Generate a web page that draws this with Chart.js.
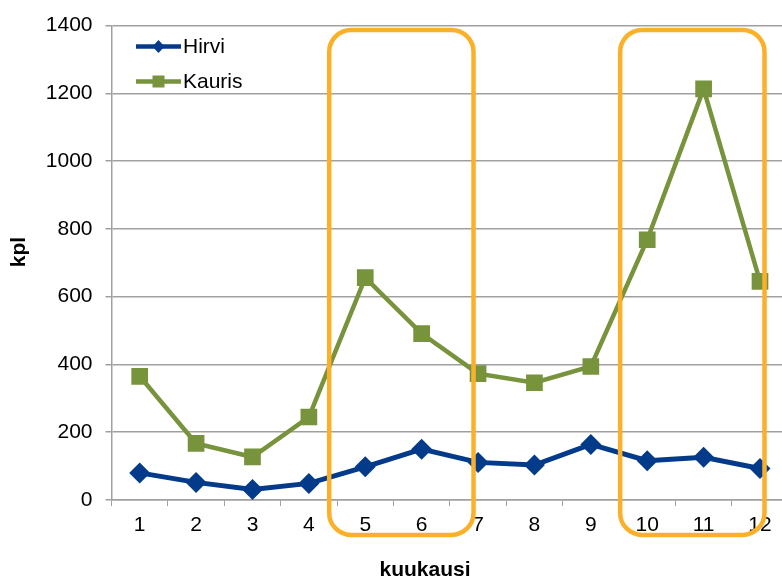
<!DOCTYPE html>
<html>
<head>
<meta charset="utf-8">
<script src="https://cdn.jsdelivr.net/npm/chart.js@4.4.0/dist/chart.umd.min.js"></script>
<style>
  html, body { margin: 0; padding: 0; background: #fff; overflow: hidden; }
  #wrap { width: 800px; height: 581px; }
</style>
</head>
<body>
<div id="wrap"><canvas id="c" width="800" height="581"></canvas></div>
<script>
// Kuukausittaiset määrät
const months = ['1', '2', '3', '4', '5', '6', '7', '8', '9', '10', '11', '12'];
const hirvi  = [80, 52, 31, 49, 98, 150, 111, 103, 164, 116, 126, 93];
const kauris = [365, 167, 127, 245, 656, 491, 373, 346, 394, 768, 1213, 645];
const yTicks = [0, 200, 400, 600, 800, 1000, 1200, 1400];

// Korostetut jaksot (kategoriaindeksit ja arvoalue)
const highlightRanges = [
  { from: 3.36, to: 5.92 },
  { from: 8.52, to: 11.08 }
];
const highlightTop = 1387;
const highlightBottom = -103;

const FONT = '"Liberation Sans", Arial, sans-serif';
const FONT_SIZE = 21;
const BLUE = '#033B8A';
const GREEN = '#77933C';
const ORANGE = '#FBB02A';
const GRID = '#A0A0A0';

function roundRect(ctx, x, y, w, h, r) {
  ctx.beginPath();
  ctx.moveTo(x + r, y);
  ctx.lineTo(x + w - r, y);
  ctx.arcTo(x + w, y, x + w, y + r, r);
  ctx.lineTo(x + w, y + h - r);
  ctx.arcTo(x + w, y + h, x + w - r, y + h, r);
  ctx.lineTo(x + r, y + h);
  ctx.arcTo(x, y + h, x, y + h - r, r);
  ctx.lineTo(x, y + r);
  ctx.arcTo(x, y, x + r, y, r);
  ctx.closePath();
}

const overlay = {
  id: 'overlay',
  afterDraw(chart) {
    const ctx = chart.ctx;
    const xs = chart.scales.x, ys = chart.scales.y;
    ctx.save();

    // Korostuslaatikot
    ctx.strokeStyle = ORANGE;
    ctx.lineWidth = 4.5;
    highlightRanges.forEach(r => {
      const x0 = xs.getPixelForValue(r.from);
      const x1 = xs.getPixelForValue(r.to);
      const y0 = ys.getPixelForValue(highlightTop);
      const y1 = ys.getPixelForValue(highlightBottom);
      roundRect(ctx, x0, y0, x1 - x0, y1 - y0, 22);
      ctx.stroke();
    });

    // Selite
    const items = [
      { label: 'Hirvi', color: BLUE, style: 'diamond', y: 46.5 },
      { label: 'Kauris', color: GREEN, style: 'square', y: 81.5 }
    ];
    items.forEach(it => {
      ctx.strokeStyle = it.color;
      ctx.fillStyle = it.color;
      ctx.lineWidth = 4.5;
      ctx.beginPath();
      ctx.moveTo(136, it.y);
      ctx.lineTo(181, it.y);
      ctx.stroke();
      const cx = 158.5;
      ctx.beginPath();
      if (it.style === 'diamond') {
        ctx.moveTo(cx, it.y - 6.5);
        ctx.lineTo(cx + 6, it.y);
        ctx.lineTo(cx, it.y + 6.5);
        ctx.lineTo(cx - 6, it.y);
        ctx.closePath();
      } else {
        ctx.rect(cx - 6, it.y - 6, 12, 12);
      }
      ctx.fill();
      ctx.fillStyle = '#000';
      ctx.font = FONT_SIZE + 'px ' + FONT;
      ctx.textAlign = 'left';
      ctx.textBaseline = 'middle';
      ctx.fillText(it.label, 183, it.y + 1);
    });

    // Akselien otsikot
    ctx.fillStyle = '#000';
    ctx.font = 'bold ' + FONT_SIZE + 'px ' + FONT;
    ctx.textAlign = 'center';
    ctx.textBaseline = 'middle';
    ctx.fillText('kuukausi', 425, 570);
    ctx.save();
    ctx.translate(19, 252);
    ctx.rotate(-Math.PI / 2);
    ctx.fillText('kpl', 0, 0);
    ctx.restore();

    ctx.restore();
  }
};

new Chart(document.getElementById('c'), {
  type: 'line',
  data: {
    labels: months,
    datasets: [
      {
        label: 'Hirvi',
        data: hirvi,
        borderColor: BLUE,
        backgroundColor: BLUE,
        borderWidth: 5,
        pointStyle: 'rectRot',
        pointRadius: 10.5,
        pointBorderWidth: 0,
        pointBackgroundColor: BLUE,
        tension: 0
      },
      {
        label: 'Kauris',
        data: kauris,
        borderColor: GREEN,
        backgroundColor: GREEN,
        borderWidth: 4.5,
        pointStyle: 'rect',
        pointRadius: 11.8,
        pointBorderWidth: 0,
        pointBackgroundColor: GREEN,
        tension: 0
      }
    ]
  },
  options: {
    responsive: false,
    animation: false,
    layout: { padding: { left: 0, top: 24, right: 2, bottom: 0 } },
    plugins: {
      legend: { display: false },
      tooltip: { enabled: false }
    },
    scales: {
      x: {
        offset: true,
        grid: {
          offset: true,
          drawOnChartArea: false,
          drawTicks: true,
          tickLength: 6,
          color: GRID
        },
        border: { color: GRID, width: 1.5 },
        ticks: {
          color: '#000',
          font: { family: FONT, size: FONT_SIZE },
          padding: 7,
          maxRotation: 0,
          autoSkip: false
        },
        afterFit(scale) { scale.height = 81; }
      },
      y: {
        min: 0,
        max: 1400,
        afterBuildTicks(scale) { scale.ticks = yTicks.map(v => ({ value: v })); },
        grid: {
          color: GRID,
          lineWidth: 1.5,
          drawTicks: true,
          tickLength: 6
        },
        border: { color: GRID, width: 1.5 },
        ticks: {
          color: '#000',
          font: { family: FONT, size: FONT_SIZE },
          padding: 13,
          callback: v => String(v)
        },
        afterFit(scale) { scale.width = 111.5; }
      }
    }
  },
  plugins: [overlay]
});
</script>
</body>
</html>
